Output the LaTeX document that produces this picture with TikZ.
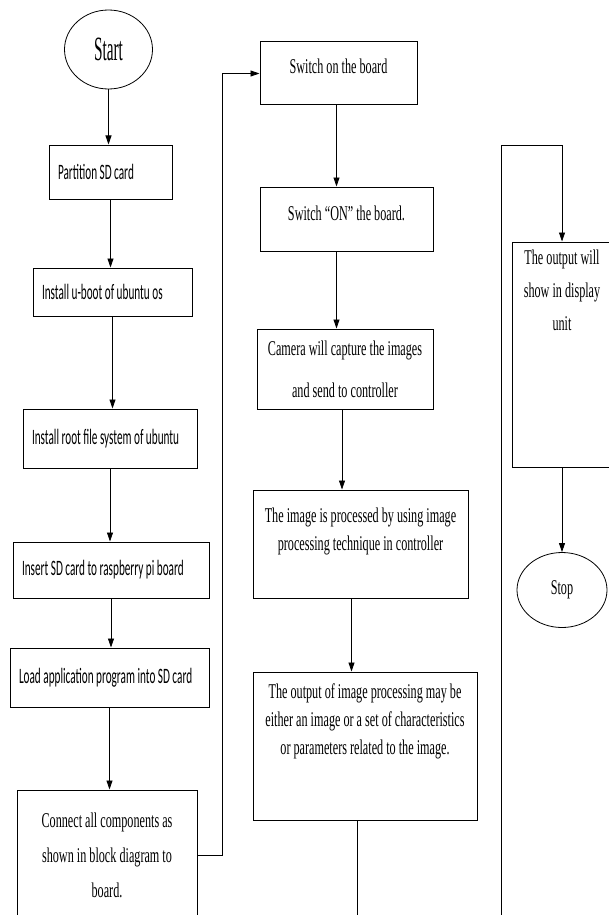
\documentclass[tikz,border=0pt]{standalone}
\usepackage{fontspec}
\setmainfont{Liberation Serif}[FakeStretch=0.58]
\newfontfamily\calibfont{Carlito}[FakeStretch=0.51]
\newfontfamily\endsfont{Liberation Serif}[FakeStretch=0.45]
\newcommand\tightspaces{\spaceskip 2.5pt\relax\xspaceskip 2.5pt\relax}
\usetikzlibrary{positioning, arrows.meta, shapes.geometric}
\tikzset{
  % Flow chart boxes
  sdstep/.style   = { draw, line width=1pt, rectangle, inner xsep=9pt, inner ysep=0pt,
                       text width=#1, align=flush left,
                       font=\calibfont\fontsize{22}{26}\selectfont,
                       execute at begin node=\tightspaces },
  runstep/.style  = { draw, line width=1pt, rectangle, inner sep=0pt, align=center,
                       font=\fontsize{21}{28}\selectfont },
  terminal/.style = { draw, line width=0.8pt, ellipse, inner sep=0pt,
                       font=\fontsize{21}{25}\selectfont },
  flowline/.style = { line width=0.8pt, -{Triangle[length=9pt, width=6pt]} },
  plainline/.style= { line width=0.8pt }
}
\begin{document}
\begin{tikzpicture}[x=1pt, y=-1pt]
  \useasboundingbox (0,0) rectangle (609,915);
  \clip (0,0) rectangle (609,915);

  % --- first column: preparing the SD card ---------------------------
  \node[terminal, minimum width=88pt, minimum height=79pt,
        font=\endsfont\fontsize{34}{38}\selectfont] (start) at (108.5,49.5) {Start};
  \node[sdstep=105pt, minimum height=54pt] (partition) at (110.5,172) {Partition SD card};
  \node[sdstep=141pt, minimum height=48pt] (uboot)     at (112.5,292) {Install u-boot of ubuntu os};
  \node[sdstep=156pt, minimum height=59pt] (rootfs)    at (110,438.5) {Install root file system of ubuntu};
  \node[sdstep=178pt, minimum height=56pt] (insert)    at (111,570)   {Insert SD card to raspberry pi board};
  \node[sdstep=181pt, minimum height=59pt] (loadapp)   at (109.5,677.5) {Load application program into SD card};
  \node[runstep, minimum width=180pt, minimum height=130pt,
        font=\fontsize{21}{35}\selectfont] (connect) at (107,855)
        {Connect all components as\\ shown in block diagram to\\ board.};

  % --- second column: running the board ------------------------------
  \node[runstep, minimum width=157pt, minimum height=63pt, text depth=15pt] (boardon) at (338.5,73.5) {Switch on the board};
  \node[runstep, minimum width=173pt, minimum height=64pt, text depth=12pt] (switchon) at (346.5,219) {Switch ``ON'' the board.};
  \node[runstep, minimum width=176pt, minimum height=80pt,
        font=\fontsize{21}{42}\selectfont] (camera) at (345,369)
        {Camera will capture the images\\ and send to controller};
  \node[runstep, minimum width=215pt, minimum height=108pt, text depth=30pt] (process) at (360.5,544)
        {The image is processed by using image\\ processing technique in controller};
  \node[runstep, minimum width=224pt, minimum height=148pt, text depth=54pt] (output) at (365,746)
        {The output of image processing may be\\ either an image or a set of characteristics\\ or parameters related to the image.};

  % --- third column: display -----------------------------------------
  \node[runstep, minimum width=100pt, minimum height=225pt, text depth=128pt,
        font=\fontsize{21}{33}\selectfont] (display) at (562,354.5)
        {The output will\\ show in display\\ unit};
  \node[terminal, minimum width=90pt, minimum height=75pt] (stop) at (562,590) {Stop};

  \coordinate (leftend)   at (357,930);
  \coordinate (rightend)  at (501,930);
  \coordinate (rightturn) at (501,145);

  % --- connectors ------------------------------------------------------
  \draw[flowline] (start.south)     -- (start.south |- partition.north);
  \draw[flowline] (partition.south) -- (partition.south |- uboot.north);
  \draw[flowline] (uboot.south)     -- (uboot.south |- rootfs.north);
  \draw[flowline] (rootfs.south)    -- (rootfs.south |- insert.north);
  \draw[flowline] (insert.south)    -- (insert.south |- loadapp.north);
  \draw[flowline] (loadapp.south)   -- (loadapp.south |- connect.north);
  \draw[flowline] (connect.east) -- ++(25,0) |- (boardon.west);

  \draw[flowline] ([xshift=-2pt]boardon.south) -- ([xshift=-2pt]boardon.south |- switchon.north);
  \draw[flowline] ([xshift=-10pt]switchon.south) -- ([xshift=-10pt]switchon.south |- camera.north);
  \draw[flowline] ([xshift=-3pt]camera.south) -- ([xshift=-3pt]camera.south |- process.north);
  \draw[flowline] ([xshift=-9pt]process.south) -- ([xshift=-9pt]process.south |- output.north);
  \draw[plainline] ([xshift=-8pt]output.south) -- (leftend);

  \draw[flowline] (rightend) -- (rightturn) -| (display.north);
  \draw[flowline] (display.south) -- (stop.north);

\end{tikzpicture}
\end{document}
